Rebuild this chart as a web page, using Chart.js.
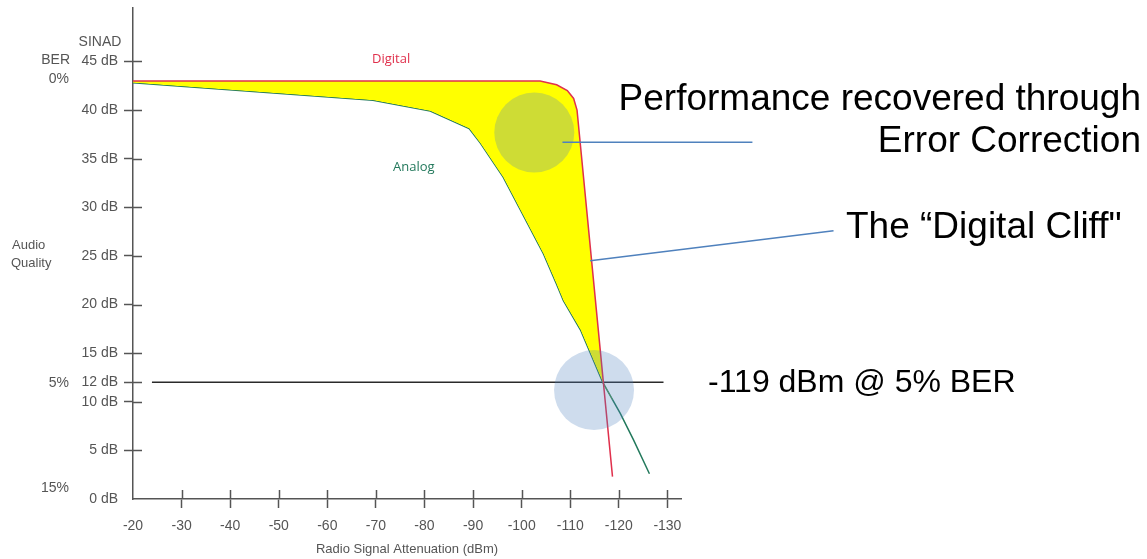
<!DOCTYPE html>
<html>
<head>
<meta charset="utf-8">
<title>Digital Cliff</title>
<script src="https://cdn.jsdelivr.net/npm/chart.js@4/dist/chart.umd.min.js"></script>
<style>
  html, body { margin: 0; padding: 0; background: #fff; }
  #wrap { position: relative; width: 1147px; height: 559px; }
</style>
</head>
<body>
<div id="wrap"><canvas id="chart" width="1147" height="559"></canvas></div>
<script>
// ---- data ----
const xTicks = [-20, -30, -40, -50, -60, -70, -80, -90, -100, -110, -120, -130];
const yTicks = [0, 5, 10, 12, 15, 20, 25, 30, 35, 40, 45];

// Digital (red) curve
const digitalX = [-20, -103.8, -107.2, -109.4, -110.7, -111.4, -118.7];
const digitalY = [43.0, 43.0, 42.6, 42.0, 41.2, 40.0, 2.3];

// Analog (green) curve
const analogX = [-20, -69.4, -81.2, -89.2, -91.5, -96.2, -104.5, -107.1, -108.6, -112.1, -116.7, -120.3, -123.0, -126.3];
const analogY = [42.8, 41.0, 39.9, 38.1, 36.6, 33.1, 25.2, 22.2, 20.4, 17.4, 12.0, 8.8, 6.1, 2.6];

// 5% BER reference at 12 dB
const refX = [-23.9, -129.2];
const refY = [12, 12];

// highlight circles
const circleX = [-102.6, -114.9];
const circleY = [37.7, 11.2];

// callout leader lines
const leaderAX = [-108.4, -147.5];
const leaderAY = [36.7, 36.7];
const leaderBX = [-114.1, -164.2];
const leaderBY = [24.5, 27.6];

const pts = (xs, ys) => xs.map((x, i) => ({ x: x, y: ys[i] }));

const FONT = '"Liberation Sans", Arial, Helvetica, sans-serif';
const AXIS = '#555555';
const RED = '#e0304c';
const GREEN = '#23795c';
const CALLOUT = 'rgb(79,129,189)';

Chart.defaults.font.family = FONT;

// inner half of the crossing tick marks, plus the free text
const extras = {
  id: 'extras',
  afterDraw(chart) {
    const ctx = chart.ctx;
    const xs = chart.scales.x, ys = chart.scales.y;
    const area = chart.chartArea;
    ctx.save();
    ctx.strokeStyle = AXIS;
    ctx.lineWidth = 1.5;
    ctx.beginPath();
    xTicks.forEach(v => {
      if (v === -20) return;
      const px = Math.round(xs.getPixelForValue(v)) + 0.5;
      ctx.moveTo(px, area.bottom);
      ctx.lineTo(px, area.bottom - 9);
    });
    yTicks.forEach(v => {
      if (v === 0) return;
      const py = Math.round(ys.getPixelForValue(v)) + 0.5;
      ctx.moveTo(area.left, py);
      ctx.lineTo(area.left + 9, py);
    });
    ctx.stroke();

    // left side labels
    ctx.fillStyle = AXIS;
    ctx.font = '14px ' + FONT;
    ctx.textBaseline = 'middle';
    ctx.textAlign = 'center';
    ctx.fillText('SINAD', 100, 42);
    ctx.textAlign = 'right';
    ctx.fillText('BER', 70, 60);
    ctx.fillText('0%', 69, 79);
    ctx.fillText('5%', 69, 383);
    ctx.fillText('15%', 69, 488);
    ctx.textAlign = 'left';
    ctx.font = '13px ' + FONT;
    ctx.fillText('Audio', 12, 245);
    ctx.fillText('Quality', 11, 263);

    // curve labels
    ctx.font = '13px "Open Sans", "Noto Sans", sans-serif';
    ctx.fillStyle = RED;
    ctx.fillText('Digital', 372, 59);
    ctx.fillStyle = GREEN;
    ctx.fillText('Analog', 393, 167);

    // callouts
    ctx.fillStyle = '#000';
    ctx.textBaseline = 'alphabetic';
    ctx.font = '37px ' + FONT;
    ctx.textAlign = 'right';
    ctx.fillText('Performance recovered through', 1141, 110);
    ctx.fillText('Error Correction', 1141, 152);
    ctx.textAlign = 'left';
    ctx.fillText('The \u201cDigital Cliff"', 846, 238);
    ctx.font = '32px ' + FONT;
    ctx.fillText('-119 dBm @ 5% BER', 708, 392);
    ctx.restore();
  }
};

new Chart(document.getElementById('chart'), {
  type: 'scatter',
  data: {
    datasets: [
      {
        label: 'Digital',
        data: pts(digitalX, digitalY),
        showLine: true,
        borderColor: RED,
        borderWidth: 1.5,
        pointRadius: 0,
        fill: { target: 1, above: 'rgb(255,255,0)', below: 'rgba(0,0,0,0)' },
        order: 2
      },
      {
        label: 'Analog',
        data: pts(analogX, analogY),
        showLine: true,
        borderColor: GREEN,
        borderWidth: 1.5,
        pointRadius: 0,
        order: 2
      },
      {
        label: '5% BER',
        data: pts(refX, refY),
        showLine: true,
        borderColor: '#2a2a2a',
        borderWidth: 1.5,
        pointRadius: 0,
        order: 2
      },
      {
        label: 'highlight',
        data: pts(circleX, circleY),
        showLine: false,
        pointRadius: 40,
        pointBackgroundColor: 'rgba(79,129,189,0.28)',
        pointBorderWidth: 0,
        order: 0
      },
      {
        label: 'callout A',
        data: pts(leaderAX, leaderAY),
        showLine: true,
        borderColor: CALLOUT,
        borderWidth: 1.5,
        pointRadius: 0,
        clip: false,
        order: 1
      },
      {
        label: 'callout B',
        data: pts(leaderBX, leaderBY),
        showLine: true,
        borderColor: CALLOUT,
        borderWidth: 1.5,
        pointRadius: 0,
        clip: false,
        order: 1
      }
    ]
  },
  options: {
    responsive: false,
    animation: false,
    events: [],
    layout: { autoPadding: false, padding: { left: 0, right: 466, top: 8, bottom: 0 } },
    plugins: {
      legend: { display: false },
      tooltip: { enabled: false }
    },
    scales: {
      x: {
        type: 'linear',
        reverse: true,
        min: -132.8,
        max: -20,
        afterBuildTicks: s => { s.ticks = xTicks.map(v => ({ value: v })); },
        afterFit: s => { s.height = 60; s.paddingLeft = 0; s.paddingRight = 0; },
        border: { display: true, color: AXIS, width: 1.5 },
        grid: {
          drawOnChartArea: false,
          tickLength: 9,
          tickWidth: 1.5,
          tickColor: c => (c.tick && c.tick.value === -20) ? 'rgba(0,0,0,0)' : AXIS
        },
        ticks: {
          color: AXIS,
          font: { size: 14 },
          padding: 10,
          maxRotation: 0,
          autoSkip: false,
          callback: v => String(v)
        },
        title: {
          display: true,
          text: 'Radio Signal Attenuation (dBm)',
          color: AXIS,
          font: { size: 13 },
          padding: { top: 0, bottom: 2 }
        }
      },
      y: {
        type: 'linear',
        min: 0,
        max: 50.5,
        afterBuildTicks: s => { s.ticks = yTicks.map(v => ({ value: v })); },
        afterFit: s => { s.width = 133; s.paddingTop = 0; s.paddingBottom = 0; },
        border: { display: true, color: AXIS, width: 1.5 },
        grid: {
          drawOnChartArea: false,
          tickLength: 9,
          tickWidth: 1.5,
          tickColor: c => (c.tick && c.tick.value === 0) ? 'rgba(0,0,0,0)' : AXIS
        },
        ticks: {
          color: AXIS,
          font: { size: 14 },
          padding: 6,
          autoSkip: false,
          callback: v => v + ' dB'
        }
      }
    }
  },
  plugins: [extras]
});
</script>
</body>
</html>
